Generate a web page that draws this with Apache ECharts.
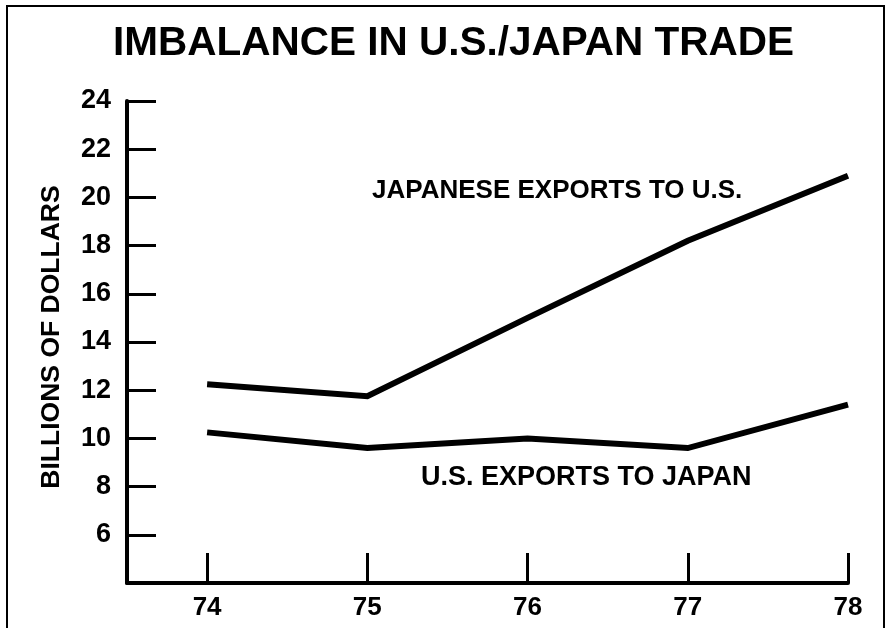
<!DOCTYPE html>
<html>
<head>
<meta charset="utf-8">
<title>Imbalance in U.S./Japan Trade</title>
<script src="https://cdn.jsdelivr.net/npm/echarts@6/dist/echarts.min.js"></script>
<style>
  html, body { margin: 0; padding: 0; background: #ffffff; }
  #chart { width: 888px; height: 628px; }
</style>
</head>
<body>
<div id="chart"></div>
<script>
// Years (19xx) along the bottom axis
const years = [74, 75, 76, 77, 78];
// Trade values, billions of dollars
const japaneseExportsToUS = [12.25, 11.75, 15.0, 18.2, 20.9];
const usExportsToJapan = [10.25, 9.6, 10.0, 9.6, 11.4];
// Value ticks shown on the left axis
const yTicks = [6, 8, 10, 12, 14, 16, 18, 20, 22, 24];

const FONT = '"Liberation Sans", Arial, Helvetica, sans-serif';
const INK = '#000000';

const chart = echarts.init(document.getElementById('chart'), null, { renderer: 'canvas' });

const toPairs = (vals) => years.map((y, i) => [y, vals[i]]);

chart.setOption({
  backgroundColor: '#ffffff',
  animation: false,
  title: {
    text: 'IMBALANCE IN U.S./JAPAN TRADE',
    left: 113,
    top: 23,
    padding: 0,
    textStyle: { fontFamily: FONT, fontWeight: 'bold', fontSize: 40.5, color: INK }
  },
  grid: { left: 127, right: 40, top: 101, bottom: 45, containLabel: false },
  xAxis: {
    type: 'value',
    min: 73.5,
    max: 78,
    splitLine: { show: false },
    axisLine: { show: true, lineStyle: { color: INK, width: 4 } },
    axisTick: {
      show: true, inside: true, length: 30,
      customValues: years,
      lineStyle: { color: INK, width: 3 }
    },
    axisLabel: {
      customValues: years,
      margin: 12,
      fontFamily: FONT, fontWeight: 'bold', fontSize: 26, color: INK,
      formatter: (v) => String(v)
    }
  },
  yAxis: {
    type: 'value',
    min: 4,
    max: 24,
    splitLine: { show: false },
    axisLine: { show: true, lineStyle: { color: INK, width: 4 } },
    axisTick: {
      show: true, inside: true, length: 29,
      customValues: yTicks,
      lineStyle: { color: INK, width: 3 }
    },
    axisLabel: {
      customValues: yTicks,
      margin: 16,
      fontFamily: FONT, fontWeight: 'bold', fontSize: 27, color: INK
    }
  },
  series: [
    {
      name: 'JAPANESE EXPORTS TO U.S.',
      type: 'line',
      data: toPairs(japaneseExportsToUS),
      symbol: 'none',
      lineStyle: { color: INK, width: 6, cap: 'butt', join: 'miter' }
    },
    {
      name: 'U.S. EXPORTS TO JAPAN',
      type: 'line',
      data: toPairs(usExportsToJapan),
      symbol: 'none',
      lineStyle: { color: INK, width: 6, cap: 'butt', join: 'miter' }
    }
  ],
  graphic: [
    {
      type: 'rect',
      shape: { x: 7, y: 6, width: 877, height: 660 },
      style: { fill: 'none', stroke: INK, lineWidth: 2 },
      silent: true
    },
    {
      // Vertical axis title
      type: 'text',
      x: 52,
      y: 337,
      rotation: Math.PI / 2,
      style: {
        text: 'BILLIONS OF DOLLARS',
        font: 'bold 26.5px ' + FONT,
        fill: INK,
        align: 'center',
        verticalAlign: 'middle'
      }
    },
    {
      type: 'text',
      left: 372,
      top: 178,
      style: {
        text: 'JAPANESE EXPORTS TO U.S.',
        font: 'bold 26px ' + FONT,
        fill: INK
      }
    },
    {
      type: 'text',
      left: 421,
      top: 464,
      style: {
        text: 'U.S. EXPORTS TO JAPAN',
        font: 'bold 27px ' + FONT,
        fill: INK
      }
    }
  ]
});
</script>
</body>
</html>
